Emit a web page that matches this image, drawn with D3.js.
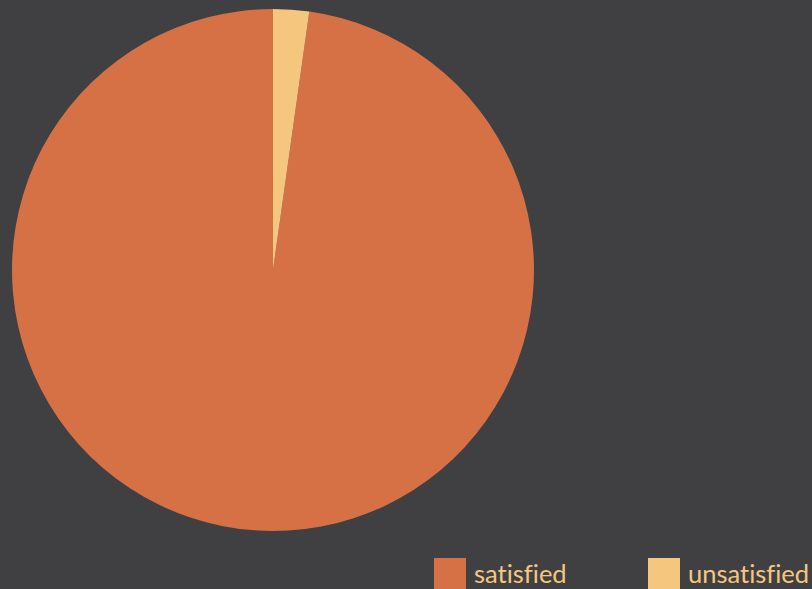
<!DOCTYPE html>
<html>
<head>
<meta charset="utf-8">
<script src="https://cdn.jsdelivr.net/npm/d3@7"></script>
<style>
  body { margin: 0; background: #404043; }
  svg { display: block; }
  .legend text { font-family: Lato, "Noto Sans", sans-serif; font-size: 25.5px; fill: #f5c77e; font-variant-ligatures: none; }
</style>
</head>
<body>
<script>
//chart data
var categories = ["satisfied", "unsatisfied"];
var counts = [44, 1];
var colors = ["#d67045", "#f5c77e"];

window.onload = drawPie();

function drawPie(){
    var width = 812,
        height = 589;

    var svg = d3.select("body")
        .append("svg")
        .attr("width", width)
        .attr("height", height);

    var cx = 273, cy = 270, radius = 261;

    var data = categories.map(function(c, i){
        return { name: c, value: counts[i], color: colors[i] };
    });

    //smaller slice starts at 12 o'clock and runs clockwise
    var pie = d3.pie()
        .sort(function(a, b){ return a.value - b.value; })
        .value(function(d){ return d.value; });

    var arc = d3.arc()
        .innerRadius(0)
        .outerRadius(radius);

    var g = svg.append("g")
        .attr("transform", "translate(" + cx + "," + cy + ")");

    g.selectAll(".slice")
        .data(pie(data))
        .enter()
        .append("path")
        .attr("class", "slice")
        .attr("fill", function(d){ return d.data.color; })
        .attr("d", arc);

    //legend
    var legendX = d3.scaleOrdinal()
        .domain(categories)
        .range([434, 648]);

    var legend = svg.selectAll(".legend")
        .data(data)
        .enter()
        .append("g")
        .attr("class", "legend")
        .attr("transform", function(d){ return "translate(" + legendX(d.name) + ",558)"; });

    legend.append("rect")
        .attr("width", 32)
        .attr("height", 32)
        .attr("fill", function(d){ return d.color; });

    legend.append("text")
        .attr("x", 40)
        .attr("y", 24.5)
        .text(function(d){ return d.name; });
}
</script>
</body>
</html>
